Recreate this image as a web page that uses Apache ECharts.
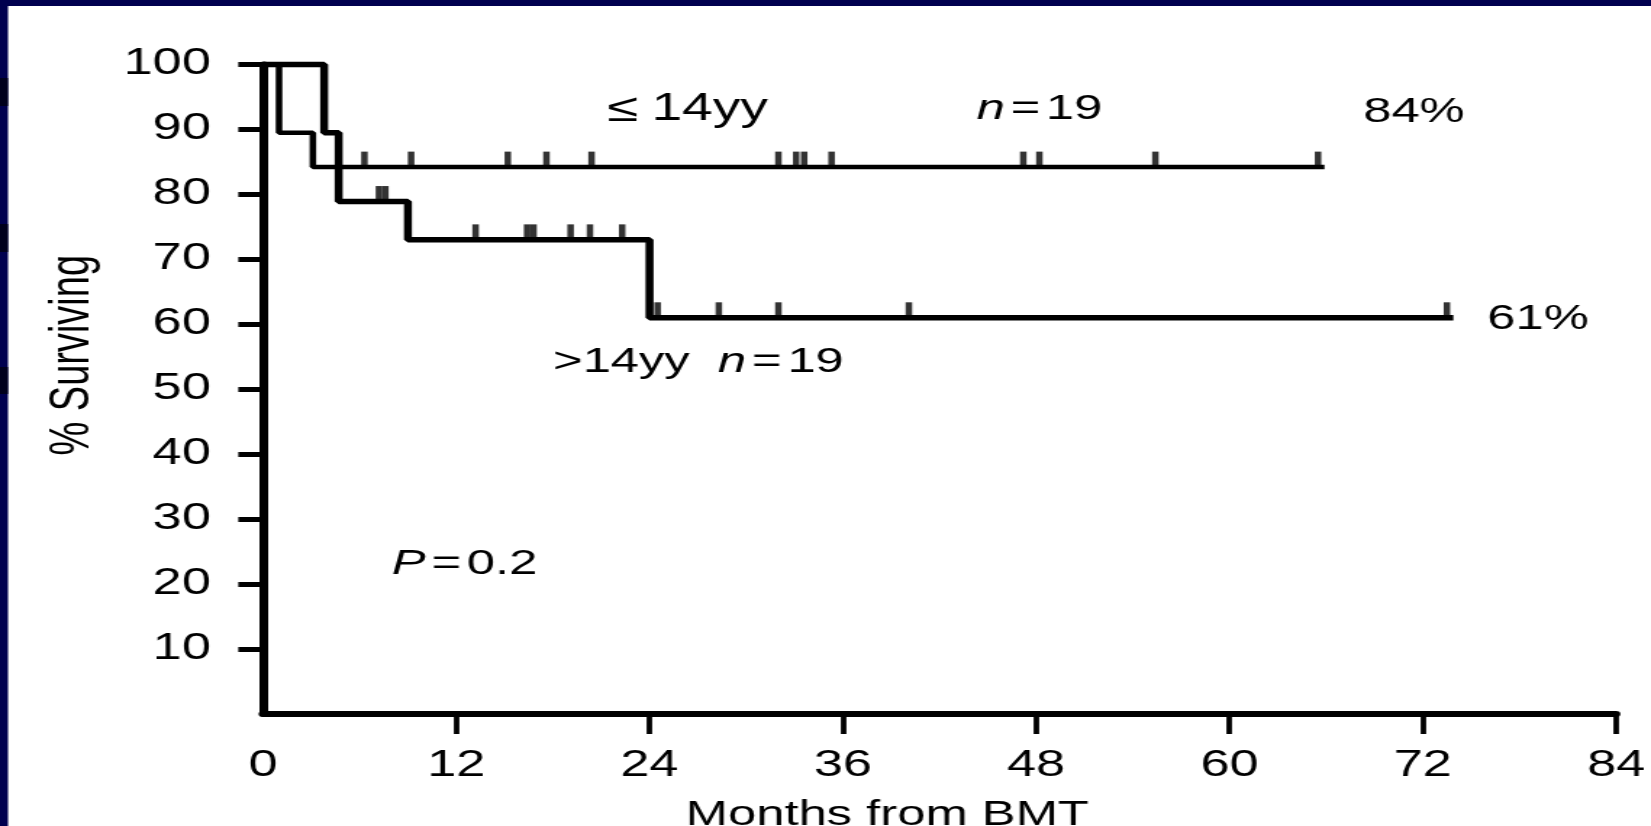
<!DOCTYPE html>
<html><head><meta charset="utf-8">
<script src="https://cdn.jsdelivr.net/npm/echarts@6/dist/echarts.min.js"></script>
<style>
html,body{margin:0;padding:0;background:#fff;overflow:hidden;width:1651px;height:826px}
#chart{width:1139px;height:826px;transform:scaleX(1.4495);transform-origin:0 0;}
</style></head><body><div id="chart"></div>
<script>
// ---- data ----
const xLabelValues = [0, 12, 24, 36, 48, 60, 72, 84];
const xTickValues = [12, 24, 36, 48, 60, 72, 84];
const yTickValues = [10, 20, 30, 40, 50, 60, 70, 80, 90, 100];

// <=14 years group (step curve)
const le14Times  = [0, 1.0, 3.1, 65.9];
const le14Values = [100, 89.5, 84.2, 84.2];
const le14CensorTimes  = [6.3, 9.2, 15.2, 17.6, 20.4, 32.0, 33.1, 33.6, 35.3, 47.2, 48.2, 55.4, 65.5];
const le14CensorValues = [84.2, 84.2, 84.2, 84.2, 84.2, 84.2, 84.2, 84.2, 84.2, 84.2, 84.2, 84.2, 84.2];

// >14 years group (step curve)
const gt14Times  = [0, 3.8, 4.7, 9.0, 24.0, 73.9];
const gt14Values = [100, 89.5, 78.9, 73.0, 61.0, 61.0];
const gt14CensorTimes  = [7.2, 7.6, 13.2, 16.4, 16.8, 19.1, 20.3, 22.3, 24.5, 28.3, 32.0, 40.1, 73.5];
const gt14CensorValues = [78.9, 78.9, 73.0, 73.0, 73.0, 73.0, 73.0, 73.0, 61.0, 61.0, 61.0, 61.0, 61.0];

// annotation texts, anchored in data coordinates (left edge, vertical centre)
const annotations = [
  { text: '{l|≤}{w|14yy}', x: 21.2, y: 93.0 },
  { text: '{i|n}{e|=}19', x: 44.3, y: 93.1 },
  { text: '84%', x: 68.3, y: 92.6 },
  { text: '61%', x: 76.0, y: 60.8 },
  { text: '>14yy  {i|n}{e|=}19', x: 18.0, y: 54.2 },
  { text: '{i|P}{e|=}0.2', x: 8.0, y: 23.1 }
];

const FONT = "'Liberation Sans', Arial, Helvetica, sans-serif";
const zip = (a, b) => a.map((v, i) => [v, b[i]]);

const chart = echarts.init(document.getElementById('chart'), null, { renderer: 'canvas' });
const option = {
  animation: false,
  backgroundColor: '#ffffff',
  grid: { left: 181.4, right: 24.1, top: 64.5, bottom: 112, containLabel: false, outerBoundsMode: 'none' },
  xAxis: {
    type: 'value', min: 0, max: 84, interval: 12,
    axisLine: { show: true, onZero: false, lineStyle: { color: '#000', width: 6 } },
    axisTick: { show: true, length: 20, customValues: xTickValues, lineStyle: { color: '#000', width: 3.8 } },
    axisLabel: { customValues: xLabelValues, margin: 34, fontSize: 36, color: '#000', fontFamily: FONT },
    splitLine: { show: false },
    name: 'Months from BMT', nameLocation: 'middle', nameGap: 84,
    nameTextStyle: { fontSize: 35, color: '#000', fontFamily: FONT, padding: [0, 72, 0, 0] }
  },
  yAxis: {
    type: 'value', min: 0, max: 100, interval: 10,
    axisLine: { show: true, onZero: false, lineStyle: { color: '#000', width: 6 } },
    axisTick: { show: true, length: 17, customValues: yTickValues, lineStyle: { color: '#000', width: 5 } },
    axisLabel: { customValues: yTickValues, margin: 36, fontSize: 36, color: '#000', fontFamily: FONT },
    splitLine: { show: false },
    name: '% Surviving', nameLocation: 'middle', nameGap: 112,
    nameTextStyle: { fontSize: 38, color: '#000', fontFamily: FONT, padding: [0, 0, 0, 68] }
  },
  series: [
    { name: '≤14yy', type: 'line', step: 'end', data: zip(le14Times, le14Values), showSymbol: false,
      clip: false, silent: true, lineStyle: { color: '#000', width: 4.5 }, z: 3 },
    { name: '>14yy', type: 'line', step: 'end', data: zip(gt14Times, gt14Values), showSymbol: false,
      clip: false, silent: true, lineStyle: { color: '#000', width: 5.5 }, z: 3 },
    { name: '≤14yy censored', type: 'scatter', data: zip(le14CensorTimes, le14CensorValues),
      symbol: 'rect', symbolSize: [4.5, 16], symbolOffset: [0, -7.5], clip: false, silent: true,
      itemStyle: { color: '#000' }, z: 4 },
    { name: '>14yy censored', type: 'scatter', data: zip(gt14CensorTimes, gt14CensorValues),
      symbol: 'rect', symbolSize: [4.5, 16], symbolOffset: [0, -7.5], clip: false, silent: true,
      itemStyle: { color: '#000' }, z: 4 }
  ]
};
chart.setOption(option);

const frameColor = '#00004f';
const frame = [
  { type: 'rect', shape: { x: 0, y: 0, width: 1139, height: 6 }, style: { fill: frameColor }, silent: true, z: 10 },
  { type: 'rect', shape: { x: 0, y: 0, width: 5.5, height: 826 }, style: { fill: frameColor }, silent: true, z: 10 },
  { type: 'rect', shape: { x: 0, y: 78, width: 5.5, height: 28 }, style: { fill: '#00001c' }, silent: true, z: 11 },
  { type: 'rect', shape: { x: 0, y: 224, width: 5.5, height: 28 }, style: { fill: '#00001c' }, silent: true, z: 11 },
  { type: 'rect', shape: { x: 0, y: 367, width: 5.5, height: 27 }, style: { fill: '#00001c' }, silent: true, z: 11 }
];
const texts = annotations.map(a => {
  const p = chart.convertToPixel({ gridIndex: 0 }, [a.x, a.y]);
  return {
    type: 'text', x: p[0], y: p[1], silent: true, z: 12,
    style: {
      text: a.text, fill: '#000', fontSize: 35, fontFamily: FONT,
      align: 'left', verticalAlign: 'middle',
      rich: {
        i: { fontStyle: 'italic', fontSize: 35, fontFamily: FONT, fill: '#000' },
        e: { fontSize: 35, fontFamily: FONT, fill: '#000', padding: [0, 4, 0, 4] },
        l: { fontSize: 39, fontFamily: FONT, fill: '#000', padding: [0, 9, 0, 2] },
        w: { fontSize: 38, fontFamily: FONT, fill: '#000' }
      }
    }
  };
});
chart.setOption({ graphic: frame.concat(texts) });
</script></body></html>
